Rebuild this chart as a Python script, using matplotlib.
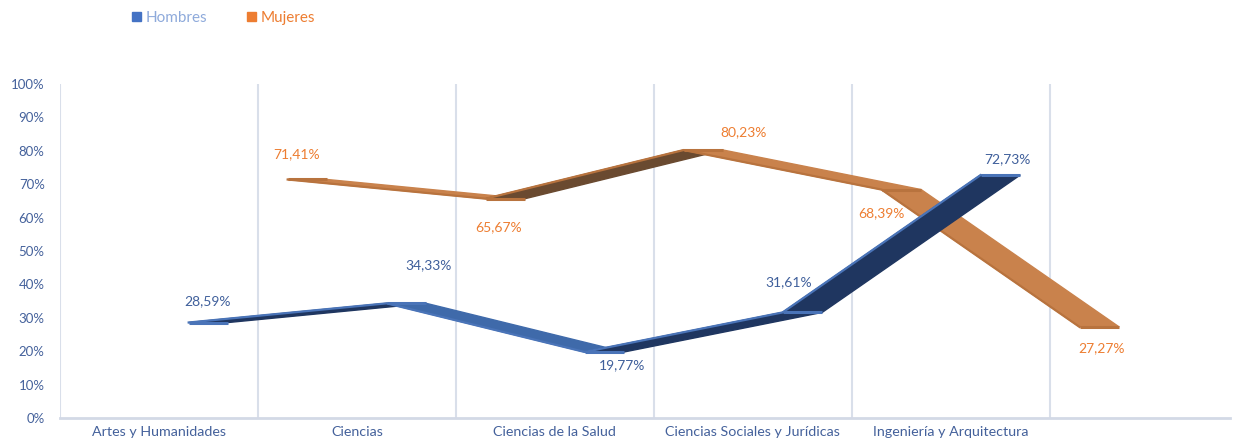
import numpy as np
import matplotlib.pyplot as plt
from matplotlib.patches import Polygon, Patch

# Datos
categorias = ["Artes y Humanidades", "Ciencias", "Ciencias de la Salud",
              "Ciencias Sociales y Jurídicas", "Ingeniería y Arquitectura"]
hombres = [28.59, 34.33, 19.77, 31.61, 72.73]
mujeres = [71.41, 65.67, 80.23, 68.39, 27.27]

# Offsets de las etiquetas (px) respecto al punto
off_h = [(-1, 21), (22, 38), (18, -13), (-14, 30), (7, 16)]
off_m = [(-11, 25), (-7, -28), (40, 18), (-20, -24), (2, -21)]

plt.rcParams['font.family'] = ['Lato', 'DejaVu Sans']

fig = plt.figure(figsize=(12.36, 4.42), dpi=100)
ax = fig.add_axes([60 / 1236, 24 / 442, 1170 / 1236, 334 / 442])

x = np.arange(len(categorias))
depth = 0.2  # profundidad de la cinta 3D


def cinta(xs, ys, c_up, c_down, c_edge, z):
    for i in range(len(xs) - 1):
        p0 = (xs[i], ys[i])
        p1 = (xs[i + 1], ys[i + 1])
        col = c_up if ys[i + 1] > ys[i] else c_down
        poly = Polygon([p0, p1, (p1[0] + depth, p1[1]), (p0[0] + depth, p0[1])],
                       closed=True, facecolor=col, edgecolor=col, lw=1, zorder=z)
        ax.add_patch(poly)
    # arista superior (meseta en cada punto)
    for i in range(len(xs)):
        ax.plot([xs[i], xs[i] + depth], [ys[i], ys[i]], color=c_edge, lw=2.2,
                solid_capstyle='butt', zorder=z + 0.1)
    ax.plot(xs, ys, color=c_edge, lw=1.6, zorder=z + 0.2)


xm = x + 0.65
xh = x + 0.15
cinta(xm, mujeres, '#6a4a30', '#c9824c', '#b8733e', 3)
cinta(xh, hombres, '#1f3660', '#3f6aaa', '#4a74b8', 5)

for i in range(len(x)):
    ax.annotate(f"{hombres[i]:.2f}%".replace('.', ','), (xh[i] + depth / 2, hombres[i]),
                xytext=(off_h[i][0] * 0.72, off_h[i][1] * 0.72), textcoords='offset points',
                ha='center', va='center', fontsize=10, color='#3f5f9b', zorder=10)
    ax.annotate(f"{mujeres[i]:.2f}%".replace('.', ','), (xm[i] + depth / 2, mujeres[i]),
                xytext=(off_m[i][0] * 0.72, off_m[i][1] * 0.72), textcoords='offset points',
                ha='center', va='center', fontsize=10, color='#ed7d31', zorder=10)

# Rejilla vertical
for g in np.arange(len(categorias) + 1) - 0.5:
    ax.axvline(g, color='#d9dfea', lw=1.5, zorder=1)

ax.set_xlim(-0.5, 5.41)
ax.set_ylim(0, 100)
ax.set_yticks(np.arange(0, 101, 10))
ax.set_yticklabels([f"{v}%" for v in range(0, 101, 10)])
ax.set_xticks(x)
ax.set_xticklabels(categorias)
ax.tick_params(axis='both', length=0, labelsize=9.5, labelcolor='#44619b')
ax.tick_params(axis='x', labelsize=10.3, pad=6)
ax.tick_params(axis='y', pad=11)
for s in ['top', 'right', 'left']:
    ax.spines[s].set_visible(False)
ax.spines['bottom'].set_color('#d3d9e6')
ax.spines['bottom'].set_linewidth(2)

handles = [Patch(color='#4472c4', label='Hombres'), Patch(color='#ed7d31', label='Mujeres')]
fig.legend(handles=handles, loc='center left', bbox_to_anchor=(118 / 1236, 1 - 18 / 442),
           ncol=2, frameon=False, fontsize=11, handlelength=0.6, handleheight=0.6,
           handletextpad=0.3, columnspacing=2.6, labelcolor=['#8eaadb', '#ed7d31'])

fig.savefig("out.png", dpi=100)
